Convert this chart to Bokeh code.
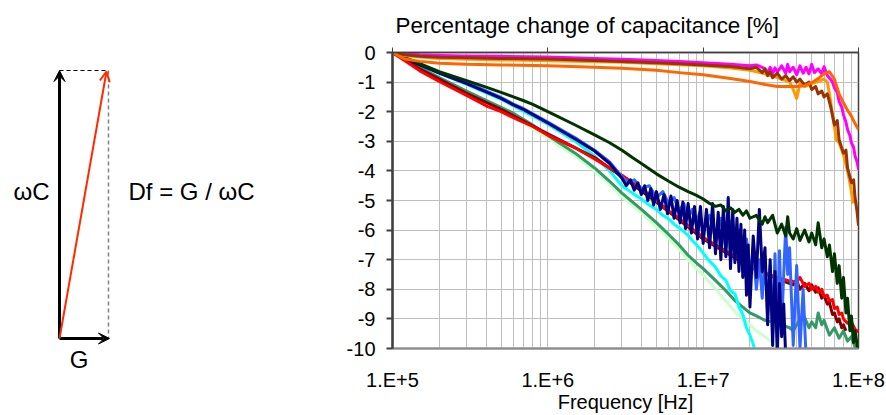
from bokeh.plotting import figure
from bokeh.models import (Range1d, FixedTicker, CustomJSTickFormatter, LogAxis,
                          Arrow, VeeHead, OpenHead, Label)
from bokeh.layouts import row
from bokeh.embed import file_html
from bokeh.resources import INLINE

FONT = "Liberation Sans"

# ---- capacitance change [%] versus frequency [Hz], one list of (f, dC) per sample ----
magenta = [(1e5, 0), (1.2e5, -0.05), (1.5e5, -0.08), (2e5, -0.1), (3e5, -0.12), (5e5, -0.13),
           (1e6, -0.15), (2e6, -0.2), (3e6, -0.23), (5e6, -0.27), (7e6, -0.3), (1e7, -0.35),
           (1.5e7, -0.4), (2e7, -0.45), (2.2e7, -0.42), (2.4e7, -0.5), (2.5e7, -0.55), (2.6e7, -0.68),
           (2.7e7, -0.5), (2.8e7, -0.72), (2.9e7, -0.52), (3.0e7, -0.66), (3.2e7, -0.45), (3.4e7, -0.7),
           (3.5e7, -0.4), (3.6e7, -0.65), (3.8e7, -0.5), (4.0e7, -0.75), (4.2e7, -0.45), (4.4e7, -0.7),
           (4.6e7, -0.5), (4.8e7, -0.72), (5.0e7, -0.4), (5.2e7, -0.68), (5.5e7, -0.55), (5.8e7, -0.72),
           (6.0e7, -0.48), (6.3e7, -0.78), (6.6e7, -0.9), (6.8e7, -1.0), (7.0e7, -1.2), (7.3e7, -1.35),
           (7.5e7, -1.65), (7.8e7, -1.85), (8.0e7, -2.1), (8.3e7, -2.35), (8.5e7, -2.6), (8.8e7, -2.8),
           (9.0e7, -3.05), (9.3e7, -3.2), (9.5e7, -3.5), (9.8e7, -3.7), (1e8, -3.95)]

brown = [(1e5, 0), (1.2e5, -0.08), (1.5e5, -0.13), (2e5, -0.16), (3e5, -0.18), (5e5, -0.2),
         (1e6, -0.22), (2e6, -0.27), (3e6, -0.3), (5e6, -0.35), (7e6, -0.38), (1e7, -0.42),
         (1.5e7, -0.47), (2e7, -0.55), (2.2e7, -0.5), (2.4e7, -0.68), (2.5e7, -0.55), (2.6e7, -0.78),
         (2.7e7, -0.65), (2.8e7, -0.85), (3.0e7, -0.7), (3.2e7, -0.9), (3.4e7, -0.78), (3.6e7, -0.95),
         (3.8e7, -0.82), (4.0e7, -1.0), (4.2e7, -0.9), (4.5e7, -1.1), (4.8e7, -1.0), (5.0e7, -1.25),
         (5.3e7, -1.15), (5.5e7, -1.4), (5.8e7, -1.3), (6.0e7, -1.5), (6.3e7, -1.4), (6.6e7, -1.8),
         (7.0e7, -2.45), (7.3e7, -2.3), (7.5e7, -2.95), (8.0e7, -3.4), (8.3e7, -3.3), (8.5e7, -3.9),
         (9.0e7, -4.4), (9.3e7, -4.3), (9.5e7, -4.9), (9.8e7, -5.4), (1e8, -5.85)]

light_orange = [(1e5, 0), (1.2e5, -0.1), (1.5e5, -0.15), (2e5, -0.2), (5e5, -0.25), (1e6, -0.28),
                (3e6, -0.33), (1e7, -0.45), (1.5e7, -0.52), (2e7, -0.6), (2.5e7, -0.72), (3e7, -0.85),
                (3.3e7, -0.92), (3.6e7, -0.98), (3.8e7, -1.25), (4.0e7, -1.55), (4.2e7, -1.05),
                (4.5e7, -1.15), (5.0e7, -1.05), (5.5e7, -0.98), (6.0e7, -0.9), (6.3e7, -1.0),
                (6.6e7, -1.6), (6.8e7, -2.1), (7.0e7, -2.5), (7.2e7, -2.95), (7.5e7, -3.05),
                (8.0e7, -3.45), (8.5e7, -4.0), (8.8e7, -4.4), (9.0e7, -4.7), (9.2e7, -5.1)]

orange = [(1e5, 0), (1.1e5, -0.12), (1.2e5, -0.22), (1.5e5, -0.3), (2e5, -0.36), (3e5, -0.4),
          (5e5, -0.42), (1e6, -0.45), (2e6, -0.5), (3e6, -0.53), (5e6, -0.6), (7e6, -0.68),
          (1e7, -0.75), (1.5e7, -0.88), (2e7, -0.98), (2.5e7, -1.08), (3e7, -1.15), (3.5e7, -1.15),
          (4e7, -1.15), (4.5e7, -1.12), (5e7, -1.02), (5.5e7, -0.88), (6e7, -0.72), (6.5e7, -0.65),
          (7e7, -0.9), (7.5e7, -1.4), (8e7, -1.7), (8.5e7, -1.95), (9e7, -2.15), (9.5e7, -2.4),
          (1e8, -2.6)]

dark_green = [(1e5, 0), (1.5e5, -0.38), (2e5, -0.65), (3e5, -0.95), (4e5, -1.17), (5e5, -1.35),
              (6e5, -1.5), (7e5, -1.63), (8e5, -1.75), (1e6, -2.0), (1.5e6, -2.45), (2e6, -2.78),
              (2.5e6, -3.05), (3e6, -3.3), (3.5e6, -3.55), (4e6, -3.75), (5e6, -4.1), (6e6, -4.35),
              (7e6, -4.55), (8e6, -4.7), (9e6, -4.82), (1e7, -4.95), (1.1e7, -5.1), (1.2e7, -5.2),
              (1.3e7, -5.15), (1.4e7, -5.35), (1.5e7, -5.25), (1.6e7, -5.4), (1.7e7, -5.3),
              (1.8e7, -5.5), (1.9e7, -5.35), (2e7, -5.6), (2.2e7, -5.5), (2.4e7, -5.8), (2.5e7, -5.55),
              (2.6e7, -5.75), (2.8e7, -5.5), (3e7, -6.1), (3.2e7, -5.8), (3.4e7, -6.2), (3.5e7, -5.55),
              (3.6e7, -6.1), (3.8e7, -6.3), (4e7, -5.95), (4.2e7, -6.35), (4.5e7, -6.0), (4.8e7, -6.4),
              (5e7, -6.1), (5.3e7, -6.5), (5.5e7, -5.75), (5.8e7, -6.6), (6e7, -6.3), (6.3e7, -6.9),
              (6.5e7, -6.5), (6.8e7, -7.4), (7e7, -6.8), (7.3e7, -7.8), (7.5e7, -7.2), (7.8e7, -8.3),
              (8e7, -7.6), (8.3e7, -8.8), (8.5e7, -8.3), (8.8e7, -9.4), (9e7, -8.9), (9.3e7, -9.8),
              (9.5e7, -9.4), (1e8, -10.2)]

navy = [(1e5, 0), (1.5e5, -0.42), (2e5, -0.7), (3e5, -1.05), (4e5, -1.33), (5e5, -1.55),
        (6e5, -1.77), (7e5, -1.93), (8e5, -2.1), (1e6, -2.38), (1.5e6, -2.92), (2e6, -3.33),
        (2.5e6, -3.75), (3.0e6, -4.25), (3.2e6, -4.5), (3.4e6, -4.3), (3.6e6, -4.65), (3.8e6, -4.4),
        (4.0e6, -4.8), (4.2e6, -4.5), (4.4e6, -5.0), (4.6e6, -4.6), (4.8e6, -5.15), (5.0e6, -4.7),
        (5.3e6, -5.3), (5.6e6, -4.8), (5.9e6, -5.45), (6.2e6, -4.85), (6.5e6, -5.6), (6.8e6, -5.0),
        (7.1e6, -5.75), (7.4e6, -5.05), (7.7e6, -5.95), (8.0e6, -5.1), (8.4e6, -6.1), (8.8e6, -5.2),
        (9.2e6, -6.3), (9.6e6, -5.2), (1.0e7, -6.45), (1.05e7, -5.3), (1.1e7, -6.6), (1.15e7, -5.1),
        (1.2e7, -6.8), (1.25e7, -5.4), (1.3e7, -7.0), (1.35e7, -5.2), (1.4e7, -6.9), (1.45e7, -4.9),
        (1.5e7, -7.3), (1.55e7, -5.3), (1.6e7, -7.1), (1.65e7, -5.6), (1.7e7, -7.4), (1.75e7, -5.8),
        (1.8e7, -7.6), (1.85e7, -6.0), (1.9e7, -8.2), (1.95e7, -6.5), (2.0e7, -8.6), (2.1e7, -6.2),
        (2.2e7, -7.6), (2.3e7, -5.3), (2.4e7, -7.4), (2.5e7, -6.6), (2.6e7, -9.2), (2.7e7, -7.0),
        (2.8e7, -9.9), (2.9e7, -7.4), (3.0e7, -10.2), (3.1e7, -7.8), (3.2e7, -9.6), (3.3e7, -8.5),
        (3.4e7, -10.3)]

blue = [(1e5, 0), (1.5e5, -0.4), (2e5, -0.68), (3e5, -1.02), (4e5, -1.3), (5e5, -1.52),
        (6e5, -1.74), (7e5, -1.9), (8e5, -2.07), (1e6, -2.35), (1.5e6, -2.88), (2e6, -3.3),
        (2.5e6, -3.7), (3e6, -4.2), (3.3e6, -4.4), (3.6e6, -4.3), (4e6, -4.6), (4.5e6, -4.5),
        (5e6, -4.9), (5.5e6, -4.7), (6e6, -5.1), (6.5e6, -4.9), (7e6, -5.35), (7.5e6, -5.1),
        (8e6, -5.6), (8.5e6, -5.3), (9e6, -5.8), (9.5e6, -5.4), (1e7, -6.0), (1.1e7, -5.5),
        (1.2e7, -6.3), (1.3e7, -5.6), (1.4e7, -6.6), (1.5e7, -5.7), (1.6e7, -6.9), (1.7e7, -6.0),
        (1.8e7, -7.2), (1.9e7, -6.3), (2.0e7, -7.6), (2.1e7, -6.6), (2.2e7, -8.0), (2.3e7, -7.0),
        (2.4e7, -8.3), (2.5e7, -6.9), (2.6e7, -8.8), (2.7e7, -7.2), (2.8e7, -9.5), (2.9e7, -6.8),
        (3.0e7, -9.8), (3.1e7, -6.7), (3.2e7, -9.3), (3.3e7, -7.5), (3.4e7, -5.9), (3.5e7, -7.5),
        (3.6e7, -6.6), (3.8e7, -9.9), (4.0e7, -7.2), (4.2e7, -10.0), (4.4e7, -8.0), (4.6e7, -10.3)]

red = [(1e5, 0), (1.5e5, -0.62), (2e5, -0.98), (3e5, -1.45), (4e5, -1.8), (5e5, -2.0),
       (6e5, -2.2), (8e5, -2.5), (1e6, -2.79), (1.5e6, -3.22), (2e6, -3.6), (2.5e6, -3.9),
       (3e6, -4.15), (4e6, -4.6), (5e6, -5.0), (6e6, -5.35), (7e6, -5.6), (8e6, -5.85), (9e6, -6.05),
       (1e7, -6.25), (1.2e7, -6.5), (1.5e7, -6.8), (2e7, -7.2), (2.5e7, -7.45), (3e7, -7.6),
       (3.5e7, -7.7), (4e7, -7.75), (4.2e7, -7.6), (4.5e7, -7.9), (4.8e7, -7.8), (5e7, -8.0),
       (5.3e7, -7.9), (5.5e7, -8.1), (5.8e7, -8.0), (6e7, -8.25), (6.3e7, -8.2), (6.5e7, -8.4),
       (6.8e7, -8.35), (7e7, -8.65), (7.3e7, -8.6), (7.5e7, -8.85), (7.8e7, -8.8), (8e7, -9.0),
       (8.5e7, -9.15), (9e7, -9.1), (9.5e7, -9.35), (1e8, -9.45)]

maroon = [(1e5, 0), (1.5e5, -0.56), (2e5, -0.9), (3e5, -1.38), (5e5, -1.92), (1e6, -2.75),
          (2e6, -3.55), (3e6, -4.2), (5e6, -5.05), (7e6, -5.65), (1e7, -6.3), (1.5e7, -6.85),
          (2e7, -7.25), (3e7, -7.65), (3.8e7, -7.85), (4e7, -7.7), (4.2e7, -8.0), (4.5e7, -7.8),
          (4.8e7, -8.05), (5e7, -7.85), (5.3e7, -8.1), (5.5e7, -7.95), (5.8e7, -8.3), (6e7, -8.2),
          (6.3e7, -8.5), (6.5e7, -8.45), (6.8e7, -8.85), (7e7, -8.8), (7.3e7, -9.1), (7.5e7, -9.0),
          (7.8e7, -9.3), (8e7, -9.2), (8.3e7, -9.4)]

cyan = [(1e5, 0), (1.5e5, -0.4), (2e5, -0.7), (3e5, -1.08), (5e5, -1.58), (1e6, -2.42),
        (1.5e6, -3.0), (2e6, -3.5), (2.5e6, -4.0), (3e6, -4.5), (3.5e6, -4.75), (4e6, -4.95),
        (4.5e6, -5.15), (5e6, -5.3), (5.5e6, -5.5), (6e6, -5.62), (6.5e6, -5.8), (7e6, -5.92),
        (7.5e6, -6.05), (8e6, -6.18), (8.5e6, -6.35), (9e6, -6.48), (9.5e6, -6.62), (1e7, -6.78),
        (1.1e7, -7.05), (1.2e7, -7.25), (1.3e7, -7.55), (1.4e7, -7.7), (1.5e7, -8.05), (1.6e7, -8.15),
        (1.7e7, -8.6), (1.8e7, -8.85), (1.9e7, -9.3), (2e7, -9.55), (2.1e7, -9.85), (2.2e7, -10.3)]

sea_green = [(1e5, 0), (1.5e5, -0.5), (2e5, -0.85), (3e5, -1.3), (4e5, -1.62), (5e5, -1.85),
             (6e5, -2.05), (8e5, -2.45), (1e6, -2.8), (1.5e6, -3.4), (2e6, -3.9), (2.5e6, -4.35),
             (3e6, -4.75), (3.5e6, -5.05), (4e6, -5.3), (5e6, -5.75), (6e6, -6.15), (7e6, -6.5),
             (8e6, -6.85), (9e6, -7.1), (1e7, -7.3), (1.2e7, -7.7), (1.4e7, -8.05), (1.6e7, -8.38),
             (1.8e7, -8.6), (2e7, -8.8), (2.2e7, -8.9), (2.5e7, -9.05), (2.8e7, -9.1), (3.2e7, -9.2),
             (3.6e7, -9.3), (3.8e7, -9.4), (4e7, -9.2), (4.2e7, -9.0), (4.5e7, -8.95), (4.8e7, -9.3),
             (5e7, -9.1), (5.3e7, -9.3), (5.5e7, -8.8), (5.8e7, -9.2), (6e7, -9.05), (6.5e7, -9.55),
             (7e7, -9.3), (7.5e7, -9.65), (8e7, -9.4), (8.5e7, -9.75), (9e7, -9.6), (9.5e7, -9.95),
             (1e8, -9.8)]

light_green = [(1e5, 0), (1.5e5, -0.52), (2e5, -0.88), (3e5, -1.33), (5e5, -1.9), (1e6, -2.9),
               (1.5e6, -3.5), (2e6, -4.0), (2.5e6, -4.45), (3e6, -4.88), (4e6, -5.42), (5e6, -5.88),
               (6e6, -6.28), (7e6, -6.65), (8e6, -7.0), (9e6, -7.28), (1e7, -7.52), (1.2e7, -7.98),
               (1.4e7, -8.4), (1.6e7, -8.75), (1.8e7, -9.0), (2e7, -9.2), (2.2e7, -9.4),
               (2.5e7, -9.6), (2.8e7, -9.8), (3e7, -10.1)]

# drawing order, back to front
series = [
    (light_green, "#CCFFCC"), (sea_green, "#339966"), (cyan, "#00FFFF"),
    (maroon, "#800000"), (red, "#FF0000"), (blue, "#3366FF"), (navy, "#000080"),
    (dark_green, "#003300"), (magenta, "#FF00FF"), (light_orange, "#FF9900"),
    (brown, "#993300"), (orange, "#FF6600"),
]

decades = [1e5, 1e6, 1e7, 1e8]
minor_steps = [2, 3, 4, 5, 6, 7, 8, 9]
y_ticks = list(range(-10, 1))

GRID = "#BFBFBF"
DARK = "#404040"

# shared frame geometry of the two panels (canvas pixels)
BORDER_TOP, BORDER_BOTTOM = 52, 67
HEIGHT = 415
FRAME_TOP, FRAME_BOTTOM = BORDER_TOP, HEIGHT - BORDER_BOTTOM

# ---------------- vector diagram ----------------
# data units equal canvas pixels, y growing downward
d = figure(width=330, height=HEIGHT, x_range=Range1d(0, 330),
           y_range=Range1d(FRAME_BOTTOM, FRAME_TOP),
           output_backend="svg", toolbar_location=None,
           x_axis_location="below", y_axis_location=None,
           min_border_left=0, min_border_right=0,
           min_border_top=BORDER_TOP, min_border_bottom=BORDER_BOTTOM)
d.grid.visible = False
d.outline_line_color = None

ox, oy = 59, 338        # common origin of the vectors
wc_len = 268            # length of the ωC (susceptance) vector
g_len = 49              # length of the G (conductance) vector

# dashed completion of the rectangle
d.line([ox, ox + g_len], [oy - wc_len, oy - wc_len], line_color="black", line_width=1,
       line_dash="4 3")
d.line([ox + g_len, ox + g_len], [oy - wc_len, oy], line_color="#808080", line_width=1.5,
       line_dash="4 3")

d.add_layout(Arrow(end=VeeHead(size=11, fill_color="black", line_color="black", line_width=1),
                   x_start=ox, y_start=oy, x_end=ox, y_end=oy - wc_len,
                   line_color="black", line_width=3))
d.add_layout(Arrow(end=VeeHead(size=11, fill_color="black", line_color="black", line_width=1),
                   x_start=ox, y_start=oy, x_end=ox + g_len + 1, y_end=oy,
                   line_color="black", line_width=3))
d.add_layout(Arrow(end=OpenHead(size=10, line_color="#FF2A00", line_width=2),
                   x_start=ox, y_start=oy, x_end=ox + g_len - 2, y_end=oy - wc_len + 1,
                   line_color="#FF2A00", line_width=2))

for txt, x, y in [("ωC", 13, 191), ("Df = G / ωC", 128, 191)]:
    d.add_layout(Label(x=x, y=y, text=txt, text_align="left", text_baseline="middle",
                       text_font=FONT, text_font_size="24px", text_color="black"))

# the "G" caption sits under the conductance vector, below the frame,
# so it is carried by the bottom axis as a single tick label
g_caption_x = ox + g_len / 2 - 5
d.xaxis.ticker = FixedTicker(ticks=[g_caption_x], minor_ticks=[])
d.xaxis.formatter = CustomJSTickFormatter(args=dict(caption="G"), code="return caption;")
d.xaxis.axis_line_color = None
d.xaxis.major_tick_line_color = None
d.xaxis.minor_tick_line_color = None
d.xaxis.major_tick_out = 0
d.xaxis.major_tick_in = 0
d.xaxis.major_label_standoff = -3
d.xaxis.major_label_text_font = FONT
d.xaxis.major_label_text_font_size = "24px"
d.xaxis.major_label_text_color = "black"

# ---------------- capacitance change chart ----------------
p = figure(width=556, height=HEIGHT, x_axis_type="log",
           x_range=Range1d(1e5, 1e8), y_range=Range1d(-10, 0),
           title="Percentage change of capacitance [%]",
           output_backend="svg", toolbar_location=None,
           min_border_left=62, min_border_right=28,
           min_border_top=BORDER_TOP, min_border_bottom=BORDER_BOTTOM)

p.title.align = "left"
p.title.offset = 3
p.title.text_font = FONT
p.title.text_font_size = "22.4px"
p.title.text_font_style = "normal"
p.title.text_color = "black"
p.title.standoff = 20

x_ticker = FixedTicker(ticks=decades,
                       minor_ticks=[m * d0 for d0 in decades[:-1] for m in minor_steps])
p.xaxis.ticker = x_ticker
p.xaxis.formatter = CustomJSTickFormatter(code="return '1.E+' + Math.round(Math.log10(tick));")
p.xaxis.axis_label = "Frequency [Hz]"
p.xaxis.axis_label_text_font = FONT
p.xaxis.axis_label_text_font_size = "20px"
p.xaxis.axis_label_text_font_style = "normal"
p.xaxis.axis_label_text_color = "black"
p.xaxis.axis_label_standoff = -3
p.xaxis.major_label_text_font = FONT
p.xaxis.major_label_text_font_size = "20px"
p.xaxis.major_label_text_color = "black"
p.xaxis.major_label_standoff = 20
p.xaxis.major_tick_out = 0
p.xaxis.major_tick_in = 0
p.xaxis.minor_tick_out = 0
p.xaxis.minor_tick_in = 0
p.xaxis.axis_line_color = "#8C8C8C"
p.xaxis.axis_line_width = 2

# upper edge: only outward decade tick marks, no labels
top_axis = LogAxis(ticker=FixedTicker(ticks=decades, minor_ticks=[]),
                   formatter=CustomJSTickFormatter(code="return ' ';"),
                   major_tick_out=5, major_tick_in=0, minor_tick_out=0, minor_tick_in=0,
                   major_label_text_font_size="2px", major_label_text_alpha=0,
                   major_label_standoff=0,
                   axis_line_color=DARK, axis_line_width=1.5, major_tick_line_color=DARK)
p.add_layout(top_axis, "above")

p.yaxis.ticker = FixedTicker(ticks=y_ticks, minor_ticks=[])
p.yaxis.formatter = CustomJSTickFormatter(code="return tick.toFixed(0);")
p.yaxis.major_label_text_font = FONT
p.yaxis.major_label_text_font_size = "20px"
p.yaxis.major_label_text_color = "black"
p.yaxis.major_label_standoff = 11
p.yaxis.major_tick_out = 6
p.yaxis.major_tick_in = 0
p.yaxis.minor_tick_out = 0
p.yaxis.minor_tick_in = 0
p.yaxis.axis_line_color = DARK
p.yaxis.axis_line_width = 2.5
p.yaxis.major_tick_line_color = DARK
p.yaxis.major_tick_line_width = 2

p.xgrid.ticker = x_ticker
p.xgrid.grid_line_color = GRID
p.xgrid.minor_grid_line_color = GRID
p.ygrid.grid_line_color = GRID
p.outline_line_color = DARK
p.outline_line_width = 1.5

for pts, color in series:
    f = [pt[0] for pt in pts]
    v = [pt[1] for pt in pts]
    p.line(f, v, line_color=color, line_width=3, line_join="round")

layout = row(d, p, spacing=0)
open("out.html", "w").write(file_html(layout, INLINE))
